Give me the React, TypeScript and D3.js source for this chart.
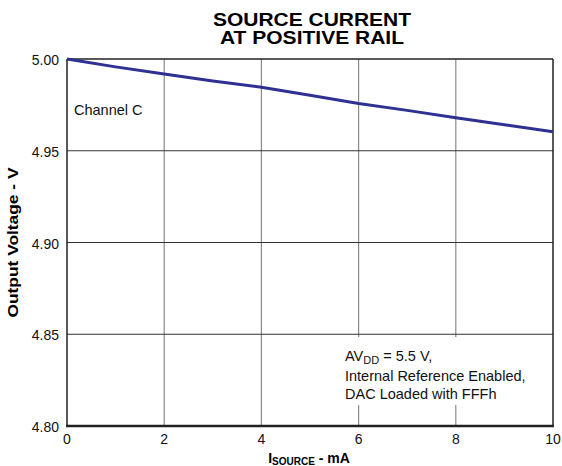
import React from "react";
import * as d3 from "d3";

// Source current (mA) vs output voltage (V)
const currents = [0, 1, 2, 3, 4, 5, 6, 7, 8, 9, 10];
const voltages = [5.0, 4.9957, 4.9918, 4.988, 4.9846, 4.9802, 4.9758, 4.972, 4.968, 4.9642, 4.9604];
const xTicks = [0, 2, 4, 6, 8, 10];
const yTicks = [4.8, 4.85, 4.9, 4.95, 5.0];

const W = 562;
const H = 466;
const margin = { top: 59, right: 9, bottom: 40, left: 67 };
const FONT = "Liberation Sans, Arial, Helvetica, sans-serif";

const App: React.FC = () => {
  const x = d3.scaleLinear().domain([0, 10]).range([margin.left, W - margin.right]);
  const y = d3.scaleLinear().domain([4.8, 5.0]).range([426, margin.top]);

  const line = d3
    .line<number>()
    .x((_, i) => x(currents[i]))
    .y((d) => y(d));

  const [x0, x1] = x.range();
  const [yb, yt] = y.range();

  return (
    <div style={{ position: "absolute", left: 0, top: 0 }}>
      <svg width={W} height={H} style={{ display: "block", background: "#fff" }} fontFamily={FONT}>
        {/* title */}
        <text x={312} y={26} textAnchor="middle" fontSize={18} fontWeight="bold" textLength={198} lengthAdjust="spacingAndGlyphs">
          SOURCE CURRENT
        </text>
        <text x={312} y={44} textAnchor="middle" fontSize={18} fontWeight="bold" textLength={184} lengthAdjust="spacingAndGlyphs">
          AT POSITIVE RAIL
        </text>

        {/* vertical grid */}
        {xTicks.slice(1, -1).map((t) => (
          <line key={"vx" + t} x1={x(t)} x2={x(t)} y1={yt} y2={yb} stroke="#8a8a8a" strokeWidth={1.2} />
        ))}
        {/* horizontal grid */}
        {yTicks.slice(1, -1).map((t) => (
          <line key={"hy" + t} x1={x0} x2={x1} y1={y(t)} y2={y(t)} stroke="#333" strokeWidth={1} />
        ))}

        {/* annotation box covering grid */}
        <rect x={338} y={337} width={210} height={68} fill="#fff" />

        {/* frame */}
        <line x1={x0} x2={x1} y1={yt} y2={yt} stroke="#222" strokeWidth={1.5} />
        <line x1={x1} x2={x1} y1={yt} y2={yb} stroke="#222" strokeWidth={1.5} />
        <line x1={x0} x2={x0} y1={yt} y2={yb} stroke="#222" strokeWidth={1.5} />
        <line x1={x0 - 1} x2={x1 + 1} y1={yb} y2={yb} stroke="#222" strokeWidth={2.5} />

        {/* data */}
        <path d={line(voltages) ?? ""} fill="none" stroke="#2e3192" strokeWidth={3} />

        {/* tick labels */}
        {yTicks.map((t) => (
          <text key={"yl" + t} x={x0 - 8} y={y(t) + 6} textAnchor="end" fontSize={14} fill="#111">
            {t.toFixed(2)}
          </text>
        ))}
        {xTicks.map((t) => (
          <text key={"xl" + t} x={x(t)} y={444} textAnchor="middle" fontSize={14} fill="#111">
            {t}
          </text>
        ))}

        {/* axis titles */}
        <text
          transform={`translate(18,${(yt + yb) / 2}) rotate(-90)`}
          textAnchor="middle"
          fontSize={14.5}
          fontWeight="bold"
          textLength={150}
          lengthAdjust="spacingAndGlyphs"
        >
          Output Voltage - V
        </text>
        <text x={309} y={463} textAnchor="middle" fontSize={14} fontWeight="bold">
          I
          <tspan fontSize={10} dy={2}>SOURCE</tspan>
          <tspan dy={-2}> - mA</tspan>
        </text>

        {/* labels */}
        <text x={74} y={115} fontSize={14.5} fill="#111">
          Channel C
        </text>
        <g fontSize={14.5} fill="#111">
          <text x={345} y={361}>
            AV<tspan fontSize={11} dy={3}>DD</tspan>
            <tspan dy={-3}> = 5.5 V,</tspan>
          </text>
          <text x={345} y={381}>Internal Reference Enabled,</text>
          <text x={345} y={399}>DAC Loaded with FFFh</text>
        </g>
      </svg>
    </div>
  );
};

export default App;
